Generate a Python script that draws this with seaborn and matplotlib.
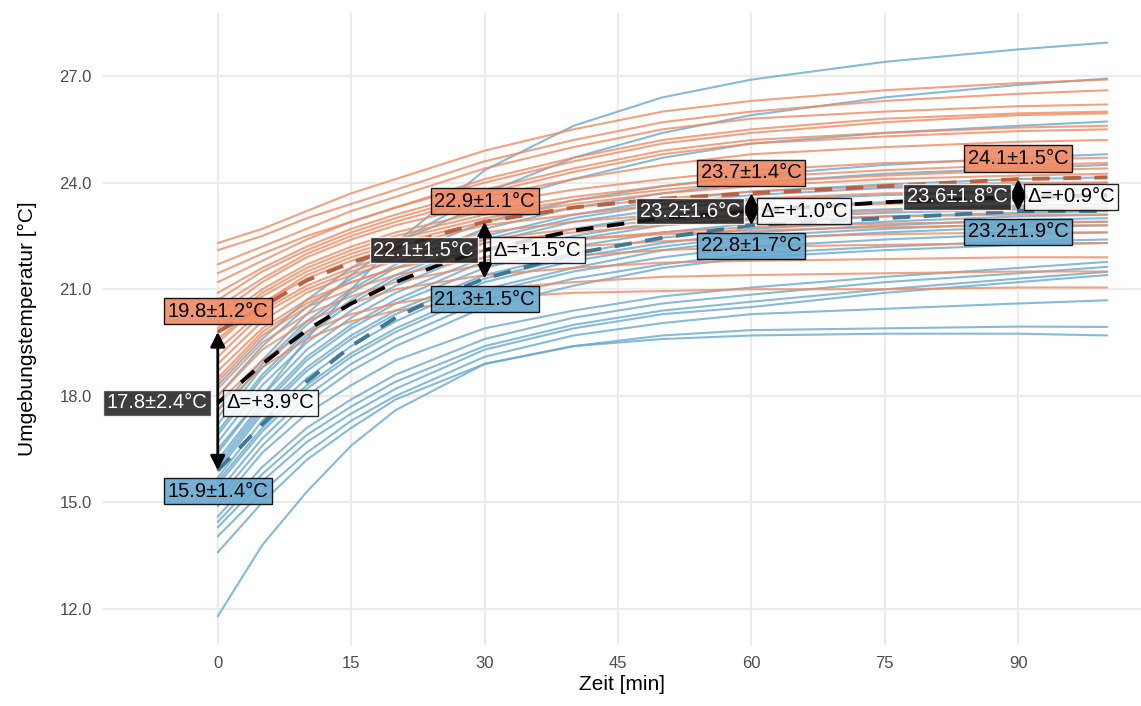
import matplotlib
matplotlib.use("Agg")
import matplotlib.pyplot as plt
import seaborn as sns
import pandas as pd
import numpy as np

# ---------------- data ----------------
times = [0, 5, 10, 15, 20, 30, 40, 50, 60, 75, 90, 100]

orange_curves = [
    [22.3, 22.7, 23.2, 23.7, 24.1, 24.9, 25.5, 26.0, 26.3, 26.6, 26.8, 26.9],
    [22.1, 22.5, 23.0, 23.4, 23.8, 24.6, 25.2, 25.7, 26.0, 26.3, 26.5, 26.6],
    [21.7, 22.2, 22.7, 23.2, 23.6, 24.4, 25.0, 25.5, 25.8, 26.0, 26.15, 26.2],
    [21.45, 22.0, 22.5, 22.9, 23.3, 24.1, 24.7, 25.2, 25.5, 25.8, 25.95, 26.0],
    [21.2, 21.8, 22.4, 22.9, 23.3, 24.0, 24.6, 25.1, 25.4, 25.7, 25.9, 25.95],
    [20.9, 21.6, 22.2, 22.7, 23.1, 23.8, 24.4, 24.9, 25.2, 25.4, 25.55, 25.6],
    [20.7, 21.5, 22.1, 22.6, 23.0, 23.7, 24.3, 24.8, 25.1, 25.3, 25.45, 25.5],
    [20.5, 21.3, 22.0, 22.5, 22.9, 23.6, 24.1, 24.5, 24.8, 25.0, 25.15, 25.2],
    [20.3, 21.2, 21.9, 22.4, 22.8, 23.4, 23.8, 24.1, 24.35, 24.55, 24.65, 24.7],
    [20.1, 21.0, 21.7, 22.2, 22.6, 23.2, 23.6, 23.9, 24.15, 24.35, 24.5, 24.55],
    [19.9, 20.9, 21.6, 22.1, 22.5, 23.1, 23.5, 23.8, 24.0, 24.2, 24.35, 24.4],
    [19.8, 20.8, 21.5, 22.0, 22.4, 23.0, 23.4, 23.7, 23.9, 24.1, 24.2, 24.25],
    [19.6, 20.6, 21.4, 21.9, 22.3, 22.9, 23.3, 23.55, 23.75, 23.9, 24.0, 24.0],
    [19.5, 20.6, 21.3, 21.8, 22.2, 22.8, 23.1, 23.4, 23.55, 23.7, 23.75, 23.8],
    [19.3, 20.4, 21.1, 21.6, 22.0, 22.6, 22.9, 23.1, 23.3, 23.4, 23.5, 23.5],
    [19.1, 20.3, 21.0, 21.5, 21.9, 22.4, 22.7, 22.95, 23.1, 23.2, 23.3, 23.3],
    [18.9, 20.1, 20.9, 21.4, 21.8, 22.3, 22.6, 22.8, 22.95, 23.05, 23.1, 23.1],
    [18.7, 19.9, 20.7, 21.2, 21.6, 22.1, 22.4, 22.6, 22.75, 22.85, 22.9, 22.9],
    [18.5, 19.8, 20.6, 21.2, 21.6, 22.1, 22.4, 22.55, 22.65, 22.75, 22.8, 22.8],
    [18.4, 19.7, 20.5, 21.0, 21.4, 21.9, 22.2, 22.35, 22.45, 22.55, 22.6, 22.6],
    [18.2, 19.5, 20.3, 20.8, 21.2, 21.7, 21.95, 22.1, 22.2, 22.25, 22.3, 22.3],
    [18.0, 19.3, 20.1, 20.6, 21.0, 21.4, 21.6, 21.75, 21.8, 21.85, 21.9, 21.9],
    [17.8, 19.0, 19.8, 20.3, 20.6, 21.0, 21.2, 21.35, 21.4, 21.45, 21.5, 21.5],
    [17.6, 18.8, 19.6, 20.1, 20.4, 20.75, 20.9, 20.95, 21.0, 21.0, 21.05, 21.05],
]

blue_curves = [
    [16.5, 18.0, 19.6, 21.0, 22.3, 24.35, 25.6, 26.4, 26.9, 27.4, 27.75, 27.94],
    [17.6, 19.0, 20.3, 21.4, 22.3, 23.7, 24.7, 25.4, 25.9, 26.4, 26.75, 26.93],
    [18.3, 19.6, 20.7, 21.6, 22.3, 23.4, 24.1, 24.7, 25.1, 25.4, 25.6, 25.72],
    [18.0, 19.4, 20.5, 21.3, 21.9, 22.9, 23.5, 23.9, 24.2, 24.5, 24.7, 24.8],
    [17.4, 18.9, 20.1, 21.0, 21.7, 22.7, 23.3, 23.7, 24.0, 24.25, 24.4, 24.5],
    [17.2, 18.8, 20.0, 20.9, 21.6, 22.5, 23.1, 23.5, 23.75, 23.95, 24.1, 24.15],
    [17.0, 18.6, 19.8, 20.7, 21.4, 22.4, 23.0, 23.4, 23.65, 23.85, 23.95, 24.0],
    [16.9, 18.5, 19.7, 20.6, 21.3, 22.3, 22.9, 23.25, 23.5, 23.65, 23.75, 23.8],
    [16.7, 18.3, 19.5, 20.4, 21.1, 22.1, 22.7, 23.1, 23.3, 23.45, 23.55, 23.6],
    [16.4, 18.0, 19.3, 20.2, 20.9, 21.9, 22.5, 22.9, 23.1, 23.25, 23.35, 23.4],
    [16.2, 17.8, 19.1, 20.0, 20.7, 21.8, 22.4, 22.8, 23.0, 23.15, 23.25, 23.3],
    [16.1, 17.7, 19.0, 19.9, 20.6, 21.6, 22.2, 22.6, 22.85, 23.05, 23.15, 23.2],
    [16.0, 17.6, 18.8, 19.7, 20.4, 21.4, 22.0, 22.45, 22.7, 22.9, 23.05, 23.1],
    [15.9, 17.5, 18.7, 19.6, 20.3, 21.3, 21.9, 22.3, 22.6, 22.8, 22.95, 23.0],
    [15.7, 17.3, 18.5, 19.4, 20.1, 21.2, 21.8, 22.2, 22.5, 22.7, 22.85, 22.9],
    [15.6, 17.1, 18.3, 19.2, 19.9, 21.0, 21.6, 22.1, 22.4, 22.6, 22.75, 22.8],
    [15.5, 17.0, 18.2, 19.1, 19.8, 20.9, 21.5, 21.9, 22.2, 22.4, 22.55, 22.6],
    [15.3, 16.8, 18.0, 18.9, 19.6, 20.7, 21.3, 21.7, 22.0, 22.2, 22.35, 22.4],
    [15.1, 16.6, 17.8, 18.7, 19.4, 20.5, 21.1, 21.6, 21.9, 22.1, 22.25, 22.3],
    [14.9, 16.4, 17.5, 18.3, 19.0, 19.9, 20.4, 20.8, 21.05, 21.35, 21.6, 21.77],
    [14.6, 16.0, 17.1, 17.9, 18.6, 19.6, 20.2, 20.6, 20.85, 21.2, 21.45, 21.63],
    [14.45, 15.8, 16.9, 17.7, 18.4, 19.4, 20.0, 20.4, 20.65, 21.0, 21.3, 21.49],
    [14.3, 15.6, 16.7, 17.5, 18.2, 19.3, 19.9, 20.3, 20.5, 20.9, 21.2, 21.4],
    [14.05, 15.3, 16.4, 17.3, 18.0, 19.1, 19.7, 20.05, 20.3, 20.45, 20.6, 20.69],
    [13.6, 15.0, 16.2, 17.1, 17.9, 18.9, 19.4, 19.7, 19.85, 19.9, 19.95, 19.94],
    [11.8, 13.8, 15.3, 16.6, 17.6, 18.9, 19.4, 19.6, 19.7, 19.75, 19.75, 19.7],
]

mean_times = [0, 5, 10, 15, 20, 25, 30, 40, 50, 60, 75, 90, 100]
orange_mean = [19.8, 20.5, 21.25, 21.75, 22.15, 22.55, 22.9, 23.3, 23.55, 23.7, 23.9, 24.1, 24.15]
blue_mean = [15.9, 17.2, 18.4, 19.4, 20.2, 20.8, 21.3, 22.0, 22.45, 22.8, 23.0, 23.2, 23.2]
overall_mean = [17.8, 18.9, 19.85, 20.6, 21.2, 21.7, 22.1, 22.65, 23.0, 23.2, 23.45, 23.6, 23.65]

label_times = [0, 30, 60, 90]
orange_at = [19.8, 22.9, 23.7, 24.1]
orange_sd = [1.2, 1.1, 1.4, 1.5]
blue_at = [15.9, 21.3, 22.8, 23.2]
blue_sd = [1.4, 1.5, 1.7, 1.9]
overall_at = [17.8, 22.1, 23.2, 23.6]
overall_sd = [2.4, 1.5, 1.6, 1.8]
delta_at = [3.9, 1.5, 1.0, 0.9]

x_ticks = [0, 15, 30, 45, 60, 75, 90]
y_ticks = [12.0, 15.0, 18.0, 21.0, 24.0, 27.0]

# ---------------- styling ----------------
sns.set_theme(style="whitegrid")
plt.rcParams['font.family'] = ['Liberation Sans', 'DejaVu Sans']

C_OR = "#EF8A62"
C_BL = "#67A9CF"
C_OR_D = "#B8603F"
C_BL_D = "#3F7899"

rows = []
for i, c in enumerate(orange_curves):
    for t, v in zip(times, c):
        rows.append(("warm", f"o{i}", t, v))
for i, c in enumerate(blue_curves):
    for t, v in zip(times, c):
        rows.append(("cold", f"b{i}", t, v))
df = pd.DataFrame(rows, columns=["group", "id", "t", "temp"])

mean_df = pd.DataFrame({
    "t": mean_times * 3,
    "temp": orange_mean + blue_mean + overall_mean,
    "kind": ["warm"] * len(mean_times) + ["cold"] * len(mean_times) + ["all"] * len(mean_times),
})

fig = plt.figure(figsize=(11.41, 7.06), dpi=100)
ax = fig.add_axes([0.0903, 0.0864, 0.9097, 0.895])

sns.lineplot(data=df[df.group == "cold"], x="t", y="temp", units="id", estimator=None,
             color=C_BL, lw=1.5, alpha=0.8, ax=ax, legend=False)
sns.lineplot(data=df[df.group == "warm"], x="t", y="temp", units="id", estimator=None,
             color=C_OR, lw=1.5, alpha=0.8, ax=ax, legend=False)

for kind, col in [("warm", C_OR_D), ("cold", C_BL_D), ("all", "black")]:
    sub = mean_df[mean_df.kind == kind]
    sns.lineplot(data=sub, x="t", y="temp", color=col, lw=2.8, ax=ax,
                 linestyle=(0, (4.5, 3.5)), legend=False, zorder=5)

FS = 14.5
off = 0.58
for t, om, osd, bm, bsd, am, asd, d in zip(label_times, orange_at, orange_sd, blue_at, blue_sd,
                                          overall_at, overall_sd, delta_at):
    ax.annotate("", xy=(t, om), xytext=(t, bm),
                arrowprops=dict(arrowstyle="<|-|>", color="black", lw=2,
                                mutation_scale=22, shrinkA=0, shrinkB=0), zorder=8)
    ax.text(t, om + off, f"{om:.1f}±{osd:.1f}°C", ha="center", va="center", fontsize=FS,
            color="black", zorder=9,
            bbox=dict(boxstyle="square,pad=0.18", fc=C_OR, ec="black", lw=1, alpha=0.9))
    ax.text(t, bm - off, f"{bm:.1f}±{bsd:.1f}°C", ha="center", va="center", fontsize=FS,
            color="black", zorder=9,
            bbox=dict(boxstyle="square,pad=0.18", fc=C_BL, ec="black", lw=1, alpha=0.9))
    ax.text(t - 1.2, am, f"{am:.1f}±{asd:.1f}°C", ha="right", va="center", fontsize=FS,
            color="white", zorder=9,
            bbox=dict(boxstyle="square,pad=0.18", fc="#1c1c1c", ec="white", lw=1, alpha=0.85))
    ax.text(t + 1.0, am, f"Δ=+{d:.1f}°C", ha="left", va="center", fontsize=FS,
            color="black", zorder=9,
            bbox=dict(boxstyle="square,pad=0.18", fc="white", ec="black", lw=1, alpha=0.85))

ax.set_xlim(-12.9, 103.8)
ax.set_ylim(10.99, 28.77)
ax.set_xticks(x_ticks)
ax.set_xticklabels([str(v) for v in x_ticks])
ax.set_yticks(y_ticks)
ax.set_yticklabels([f"{v:.1f}" for v in y_ticks])
ax.tick_params(axis="both", labelsize=12, colors="#4D4D4D", length=0, pad=8)
ax.grid(True, color="#EBEBEB", lw=1.5)
for s in ax.spines.values():
    s.set_visible(False)
ax.set_xlabel("Zeit [min]", fontsize=15, color="black", labelpad=3)
ax.set_ylabel("Umgebungstemperatur [°C]", fontsize=15, color="black", labelpad=16)

fig.savefig("out.png", dpi=100)
